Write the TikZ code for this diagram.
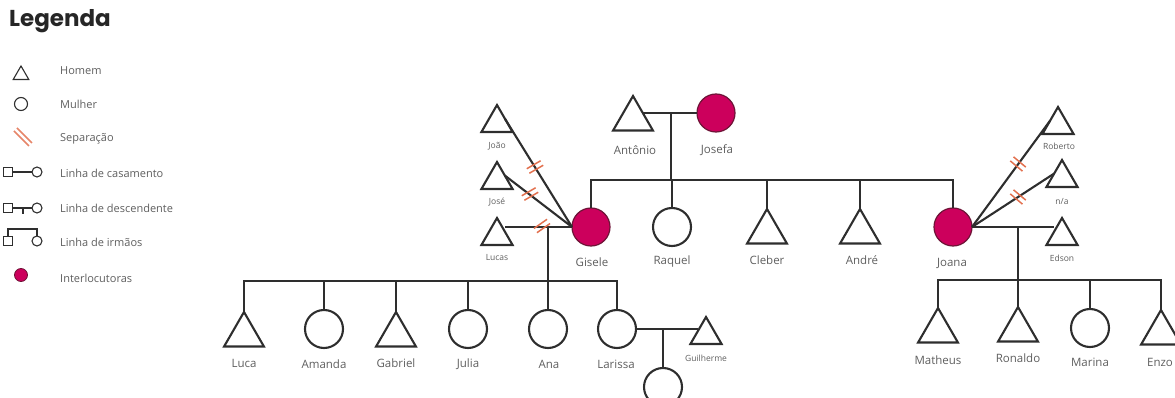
\documentclass[tikz,border=0pt]{standalone}
\usepackage{fontspec}
\setmainfont{Open Sans}
\newfontfamily\titlefont{Poppins}
\usetikzlibrary{shapes.geometric}
\definecolor{lincol}{HTML}{2E2E2E}
\definecolor{txtcol}{HTML}{5E5E5E}
\definecolor{magent}{RGB}{204,0,92}
\definecolor{magbord}{RGB}{110,20,55}
\definecolor{sepcol}{HTML}{E2704E}
\tikzset{
  lnk/.style={draw=lincol,line width=2.1pt},
  llnk/.style={draw=lincol,line width=1.1pt},
  male/.style={regular polygon, regular polygon sides=3, draw=lincol, line width=2.1pt, minimum size=46pt, inner sep=0pt, outer sep=0pt, anchor=corner 1},
  smale/.style={male, minimum size=36pt},
  female/.style={circle, draw=lincol, line width=2.1pt, minimum size=38pt, inner sep=0pt, outer sep=0pt},
  interl/.style={female, fill=magent, draw=magbord, line width=1.2pt},
  lbl/.style={text=txtcol, font=\fontsize{11.5}{13}\selectfont, inner sep=0pt},
  slbl/.style={text=txtcol, font=\fontsize{8.5}{10}\selectfont, inner sep=0pt},
  leg/.style={text=txtcol, font=\fontsize{11}{13}\selectfont, anchor=west, inner sep=0pt},
  lsq/.style={draw=lincol, line width=1.1pt, minimum size=9pt, inner sep=0pt, outer sep=0pt},
  pics/sepmark/.style={code={\draw[sepcol,line width=1.5pt] (-8,-2.6) -- (8,-2.6) (-8,2.6) -- (8,2.6);}}
}
\begin{document}
\begin{tikzpicture}[x=1pt,y=-1pt]
\useasboundingbox (0,0) rectangle (1175,398);
\clip (0,0) rectangle (1175,398);
% ---------- legend ----------
\node[font=\titlefont\bfseries\fontsize{23}{26}\selectfont, anchor=west, inner sep=0pt, text=black!85] (title) at (9,21) {Legenda};
\node[male, minimum size=18pt, line width=1.1pt] (lhom) at (21,66) {};
\node[leg] (thom) at (60,71) {Homem};
\node[female, minimum size=13pt, line width=1.1pt] (lmul) at (21,104) {};
\node[leg] (tmul) at (60,104) {Mulher};
\coordinate (ls1) at (14,131); \coordinate (ls2) at (29,146);
\coordinate (ls3) at (17,128); \coordinate (ls4) at (32,143);
\draw[sepcol!85, line width=1.5pt] (ls1) -- (ls2) (ls3) -- (ls4);
\node[leg] (tsep) at (60,139) {Separação};
\node[lsq] (lsq1) at (8,172) {};
\node[female, minimum size=10pt, line width=1.1pt] (lci1) at (37,172) {};
\draw[llnk] (lsq1) -- (lci1);
\node[leg] (tcas) at (60,173) {Linha de casamento};
\node[lsq] (lsq2) at (8,208) {};
\node[female, minimum size=10pt, line width=1.1pt] (lci2) at (37,208) {};
\coordinate (lt1) at (23,208); \coordinate (lt2) at (23,214);
\draw[llnk] (lsq2) -- (lci2) (lt1) -- (lt2);
\node[leg] (tdes) at (60,208) {Linha de descendente};
\node[lsq] (lsq3) at (8,241) {};
\node[female, minimum size=10pt, line width=1.1pt] (lci3) at (37,241) {};
\coordinate (lir) at (22,229);
\draw[llnk] (lsq3.north) |- (lir) -| (lci3.north);
\node[leg] (tirm) at (60,242) {Linha de irmãos};
\node[interl, minimum size=13pt, line width=0.8pt] (lint) at (21,275) {};
\node[leg] (tint) at (60,278) {Interlocutoras};
% ---------- grandparents ----------
\node[male] (antonio) at (633,96) {};
\node[interl] (josefa) at (716,113) {};
\node[lbl] (tantonio) at (635,150) {Antônio};
\node[lbl] (tjosefa) at (717,150) {Josefa};
\draw[lnk] (josefa.west) -- (josefa.west -| antonio.side 3);
\coordinate (m1) at (671,113);
\coordinate (s1) at (671,180);
\draw[lnk] (m1) -- (s1);
% ---------- children ----------
\node[interl] (gisele) at (591,227) {};
\node[female] (raquel) at (672,227) {};
\node[male] (cleber) at (767,209) {};
\node[male] (andre) at (860,209) {};
\node[interl] (joana) at (953,227) {};
\node[lbl] (tgisele) at (592,262) {Gisele};
\node[lbl] (traquel) at (672,262) {Raquel};
\node[lbl] (tcleber) at (767,260) {Cleber};
\node[lbl] (tandre) at (862,260) {André};
\node[lbl] (tjoana) at (952,263) {Joana};
\draw[lnk] (gisele.north) |- (s1) -| (joana.north);
\draw[lnk] (raquel.north) -- (raquel.north |- s1);
\draw[lnk] (cleber.corner 1) -- (cleber.corner 1 |- s1);
\draw[lnk] (andre.corner 1) -- (andre.corner 1 |- s1);
% ---------- Gisele partners ----------
\node[smale] (joao) at (497,105) {};
\node[smale] (jose) at (497,162) {};
\node[smale] (lucas) at (497,218) {};
\node[slbl] (tjoao) at (497,146) {João};
\node[slbl] (tjose) at (497,202) {José};
\node[slbl] (tlucas) at (497,258) {Lucas};
\draw[lnk] (gisele.west) -- (joao.side 3);
\draw[lnk] (gisele.west) -- (jose.side 3);
\draw[lnk] (gisele.west) -- (gisele.west -| lucas.side 3);
\pic[rotate=30] at (535,167) {sepmark};
\pic[rotate=30] at (530,194) {sepmark};
\pic[rotate=35] at (542,226) {sepmark};
% ---------- Gisele children ----------
\coordinate (d2) at (548,227);
\coordinate (s2) at (548,281);
\draw[lnk] (d2) -- (s2);
\node[male] (luca) at (244,312) {};
\node[female] (amanda) at (324,329) {};
\node[male] (gabriel) at (396,312) {};
\node[female] (julia) at (468,329) {};
\node[female] (ana) at (548,329) {};
\node[female] (larissa) at (617,329) {};
\draw[lnk] (luca.corner 1) |- (s2) -| (larissa.north);
\draw[lnk] (amanda.north) -- (amanda.north |- s2);
\draw[lnk] (gabriel.corner 1) -- (gabriel.corner 1 |- s2);
\draw[lnk] (julia.north) -- (julia.north |- s2);
\draw[lnk] (ana.north) -- (ana.north |- s2);
\node[lbl] (tluca) at (244,363) {Luca};
\node[lbl] (tamanda) at (324,364) {Amanda};
\node[lbl] (tgabriel) at (396,363) {Gabriel};
\node[lbl] (tjulia) at (468,364) {Julia};
\node[lbl] (tana) at (549,364) {Ana};
\node[lbl] (tlarissa) at (616,364) {Larissa};
% ---------- Larissa & Guilherme ----------
\node[smale] (guilherme) at (706,317) {};
\node[slbl] (tguilherme) at (706,358) {Guilherme};
\draw[lnk] (larissa.east) -- (larissa.east -| guilherme.side 1);
\coordinate (d3) at (663,329);
\node[female] (neta) at (663,387) {};
\draw[lnk] (d3) -- (neta.north);
% ---------- Joana partners ----------
\node[smale] (roberto) at (1058,107) {};
\node[smale] (na) at (1062,160) {};
\node[smale] (edson) at (1062,218) {};
\node[slbl] (troberto) at (1059,146) {Roberto};
\node[slbl] (tna) at (1062,202) {n/a};
\node[slbl] (tedson) at (1062,258) {Edson};
\draw[lnk] (joana.east) -- (roberto.side 1);
\draw[lnk] (joana.east) -- (na.side 1);
\draw[lnk] (joana.east) -- (joana.east -| edson.side 1);
\pic[rotate=-40] at (1018,164) {sepmark};
\pic[rotate=-40] at (1018,197) {sepmark};
% ---------- Joana children ----------
\coordinate (d4) at (1018,227);
\coordinate (s3) at (1018,280);
\draw[lnk] (d4) -- (s3);
\node[male] (matheus) at (938,308) {};
\node[male] (ronaldo) at (1018,307) {};
\node[female] (marina) at (1090,328) {};
\node[male] (enzo) at (1161,310) {};
\draw[lnk] (matheus.corner 1) |- (s3) -| (enzo.corner 1);
\draw[lnk] (ronaldo.corner 1) -- (ronaldo.corner 1 |- s3);
\draw[lnk] (marina.north) -- (marina.north |- s3);
\node[lbl] (tmatheus) at (938,360) {Matheus};
\node[lbl] (tronaldo) at (1018,358) {Ronaldo};
\node[lbl] (tmarina) at (1090,362) {Marina};
\node[lbl] (tenzo) at (1160,362) {Enzo};
\end{tikzpicture}
\end{document}
